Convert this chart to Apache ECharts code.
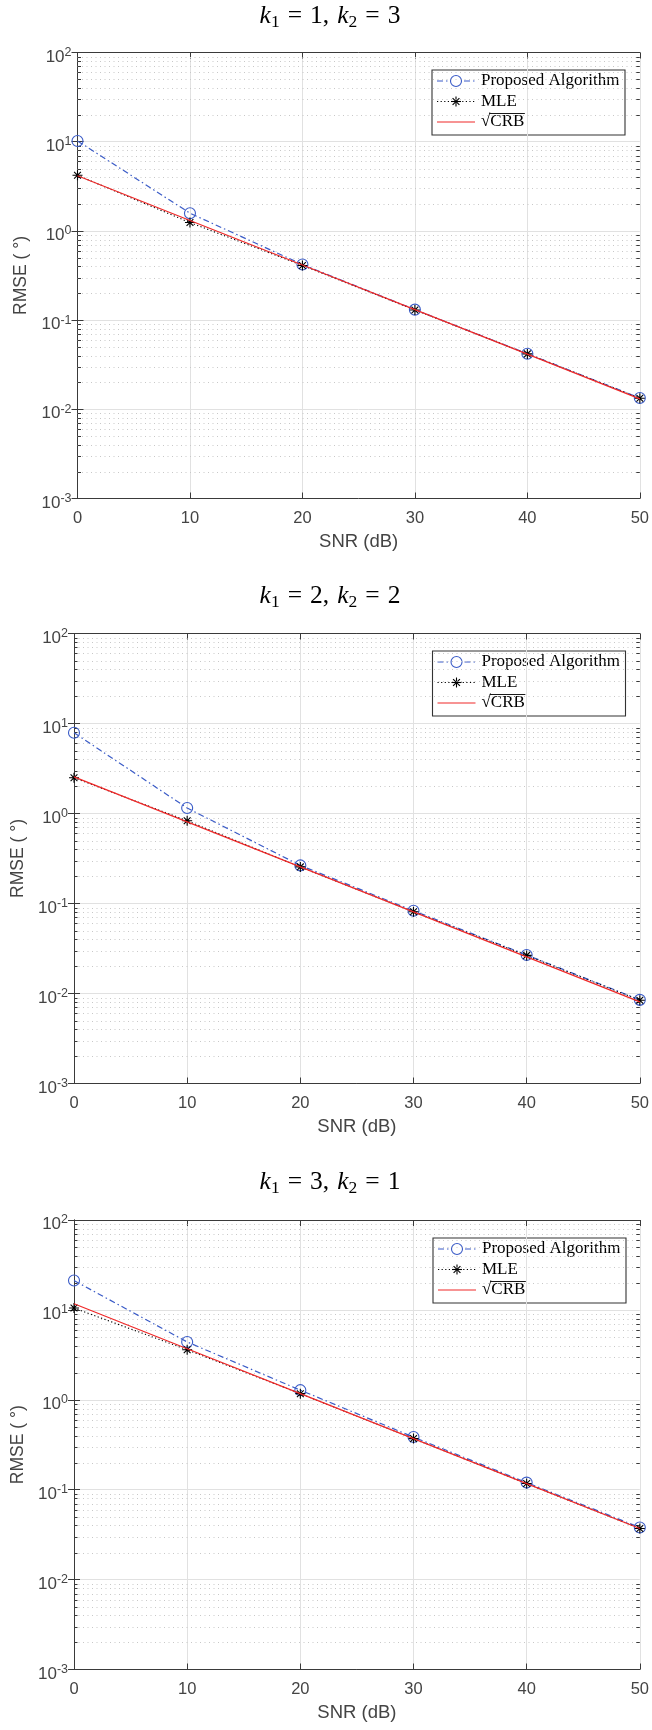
<!DOCTYPE html>
<html>
<head>
<meta charset="utf-8">
<script src="https://cdn.jsdelivr.net/npm/echarts@6/dist/echarts.min.js"></script>
<style>
  html, body { margin: 0; padding: 0; background: #fff; }
  #chart { width: 652px; height: 1730px; }
</style>
</head>
<body>
<div id="chart"></div>
<script>
// SNR sweep (dB)
const snr = [0, 10, 20, 30, 40, 50];

// k1 = 1, k2 = 3
const proposedA = [10.2, 1.58, 0.42, 0.131, 0.042, 0.0134];
const mleA      = [4.2, 1.24, 0.41, 0.130, 0.0418, 0.0133];
const crbA      = [4.15, 1.31, 0.415, 0.131, 0.0415, 0.0131];

// k1 = 2, k2 = 2
const proposedB = [7.9, 1.15, 0.265, 0.083, 0.0268, 0.0085];
const mleB      = [2.5, 0.83, 0.255, 0.081, 0.0265, 0.0084];
const crbB      = [2.55, 0.806, 0.255, 0.0806, 0.0255, 0.00806];

// k1 = 3, k2 = 1
const proposedC = [21.2, 4.4, 1.28, 0.385, 0.12, 0.038];
const mleC      = [10.5, 3.6, 1.17, 0.37, 0.117, 0.037];
const crbC      = [11.7, 3.7, 1.17, 0.37, 0.117, 0.037];

const kPairs = [[1, 3], [2, 2], [3, 1]];
const seriesNames = ['Proposed Algorithm', 'MLE', 'CRB'];
const yDecades = [-3, -2, -1, 0, 1, 2];

// minor log ticks: 2..9 within every decade
const minorTickValues = [];
for (let e = yDecades[0]; e < yDecades[yDecades.length - 1]; e++) {
  for (let m = 2; m <= 9; m++) minorTickValues.push(+(m * Math.pow(10, e)).toPrecision(3));
}

const panels = [
  { k: kPairs[0], proposed: proposedA, mle: mleA, crb: crbA },
  { k: kPairs[1], proposed: proposedB, mle: mleB, crb: crbB },
  { k: kPairs[2], proposed: proposedC, mle: mleC, crb: crbC }
];

// panel frames (px)
const frames = [
  { left: 77.5, top: 52.5, right: 642, bottom: 498.5, titleY: 17,   legendX: 432,   legendY: 70 },
  { left: 74,   top: 633.5, right: 644, bottom: 1083.5, titleY: 597,  legendX: 432.5, legendY: 651 },
  { left: 74,   top: 1220,  right: 644, bottom: 1669.5, titleY: 1183, legendX: 433,   legendY: 1238 }
];

const SANS = '"Liberation Sans", Arial, Helvetica, sans-serif';
const SERIF = '"Liberation Serif", "Times New Roman", serif';
const AXIS = '#3a3a3a';
const LABEL = '#444444';
const BLUE = '#3a5bc7';
const RED = '#f02828';
const BLACK = '#000000';
const MAJOR_GRID = '#e1e1e1';
const MINOR_GRID = '#c8c8c8';
const DASH_DOT = [6, 3, 1.5, 3];
const DOTTED = [1.2, 2.4];
const ASTERISK = 'path://M0,5L10,5M5,0L5,10M1.6,1.6L8.4,8.4M1.6,8.4L8.4,1.6';

const pairs = ys => snr.map((x, i) => [x, ys[i]]);

const grid = [], xAxis = [], yAxis = [], series = [], graphic = [];

function yLabel(v) {
  const e = Math.round(Math.log10(v));
  return '{b|10}{s|' + e + '}';
}

panels.forEach((p, i) => {
  const f = frames[i];
  grid.push({ left: f.left, top: f.top, width: f.right - f.left, height: f.bottom - f.top });

  // bottom / top x axes
  xAxis.push({
    type: 'value', gridIndex: i, min: 0, max: 50, interval: 10, position: 'bottom',
    name: 'SNR (dB)', nameLocation: 'middle', nameGap: 34,
    nameTextStyle: { fontFamily: SANS, fontSize: 18.5, color: LABEL },
    axisLine: { show: true, lineStyle: { color: AXIS, width: 1 } },
    axisTick: { show: true, inside: true, length: 6, lineStyle: { color: AXIS } },
    axisLabel: { show: true, margin: 11, fontFamily: SANS, fontSize: 16.5, color: LABEL },
    splitLine: { show: true, lineStyle: { color: MAJOR_GRID, width: 1 } }
  });
  xAxis.push({
    type: 'value', gridIndex: i, min: 0, max: 50, interval: 10, position: 'top',
    axisLine: { show: true, lineStyle: { color: AXIS, width: 1 } },
    axisTick: { show: true, inside: true, length: 6, lineStyle: { color: AXIS } },
    axisLabel: { show: false }, splitLine: { show: false }
  });

  // left / right log y axes
  yAxis.push({
    type: 'log', logBase: 10, gridIndex: i, min: 0.001, max: 100, position: 'left',
    name: 'RMSE ( °)', nameLocation: 'middle', nameGap: 44, nameRotate: 90,
    nameTextStyle: { fontFamily: SANS, fontSize: 17.5, color: LABEL },
    axisLine: { show: true, lineStyle: { color: AXIS, width: 1 } },
    axisTick: { show: true, inside: true, length: 6, lineStyle: { color: AXIS } },
    axisLabel: {
      show: true, margin: 6, formatter: yLabel,
      rich: {
        b: { fontFamily: SANS, fontSize: 17, color: LABEL, lineHeight: 26, verticalAlign: 'bottom' },
        s: { fontFamily: SANS, fontSize: 12.5, color: LABEL, lineHeight: 26, verticalAlign: 'middle' }
      }
    },
    splitLine: { show: true, lineStyle: { color: MAJOR_GRID, width: 1 } }
  });
  yAxis.push({
    type: 'log', logBase: 10, gridIndex: i, min: 0.001, max: 100, position: 'right',
    axisLine: { show: true, lineStyle: { color: AXIS, width: 1 } },
    axisTick: { show: true, inside: true, length: 6, lineStyle: { color: AXIS } },
    axisLabel: { show: false }, splitLine: { show: false }
  });

  const xi = 2 * i, yi = 2 * i;

  // minor log grid and minor ticks on both sides
  series.push({
    type: 'custom', xAxisIndex: xi, yAxisIndex: yi, z: 1, silent: true, clip: false,
    data: minorTickValues.map(v => [0, v]),
    renderItem: function (params, api) {
      const pt = api.coord([0, api.value(1)]);
      const cs = params.coordSys;
      const y = Math.round(pt[1]) + 0.5;
      return {
        type: 'group',
        children: [
          { type: 'line', shape: { x1: cs.x, y1: y, x2: cs.x + cs.width, y2: y },
            style: { stroke: MINOR_GRID, lineWidth: 1, lineDash: [1, 3.5] } },
          { type: 'line', shape: { x1: cs.x, y1: y, x2: cs.x + 3.5, y2: y },
            style: { stroke: AXIS, lineWidth: 1 } },
          { type: 'line', shape: { x1: cs.x + cs.width - 3.5, y1: y, x2: cs.x + cs.width, y2: y },
            style: { stroke: AXIS, lineWidth: 1 } }
        ]
      };
    }
  });

  series.push({
    name: seriesNames[0], type: 'line', xAxisIndex: xi, yAxisIndex: yi, data: pairs(p.proposed),
    clip: false, symbol: 'circle', symbolSize: 11, showSymbol: true, z: 3,
    lineStyle: { color: BLUE, width: 1.2, type: DASH_DOT },
    itemStyle: { color: 'transparent', borderColor: BLUE, borderWidth: 1.1 }
  });
  series.push({
    name: seriesNames[1], type: 'line', xAxisIndex: xi, yAxisIndex: yi, data: pairs(p.mle),
    clip: false, symbol: ASTERISK, symbolSize: 10, showSymbol: true, z: 4,
    lineStyle: { color: BLACK, width: 1.1, type: DOTTED },
    itemStyle: { color: BLACK, borderColor: BLACK, borderWidth: 1.1 }
  });
  series.push({
    name: seriesNames[2], type: 'line', xAxisIndex: xi, yAxisIndex: yi, data: pairs(p.crb),
    clip: false, symbol: 'none', showSymbol: false, z: 5,
    lineStyle: { color: RED, width: 1.2 }
  });

  // panel title: k_1 = a, k_2 = b  (math-style spacing around '=')
  const tfs = 25.5;
  graphic.push({
    type: 'text', x: 330, y: f.titleY, z: 100,
    style: {
      text: '{i|k}{s|1}{eq|=}{n|' + p.k[0] + '}{c|,}{i|k}{s|2}{eq|=}{n|' + p.k[1] + '}',
      align: 'center', verticalAlign: 'middle',
      rich: {
        i: { fontFamily: SERIF, fontStyle: 'italic', fontSize: tfs, lineHeight: 28, verticalAlign: 'top', fill: '#000' },
        n: { fontFamily: SERIF, fontSize: tfs, lineHeight: 28, verticalAlign: 'top', fill: '#000' },
        eq: { fontFamily: SERIF, fontSize: tfs, lineHeight: 28, verticalAlign: 'top', fill: '#000', padding: [0, 8, 0, 8] },
        c: { fontFamily: SERIF, fontSize: tfs, lineHeight: 28, verticalAlign: 'top', fill: '#000', padding: [0, 8, 0, 0] },
        s: { fontFamily: SERIF, fontSize: 17.5, lineHeight: 18, verticalAlign: 'bottom', fill: '#000' }
      }
    }
  });

  // legend box
  graphic.push(legendGroup(f.legendX, f.legendY));
});

function textWidth(str, size, family) {
  const ctx = document.createElement('canvas').getContext('2d');
  ctx.font = size + 'px ' + family;
  return ctx.measureText(str).width;
}

function asteriskLines(cx, cy, r) {
  const d = r * 0.68;
  return [
    [cx - r, cy, cx + r, cy], [cx, cy - r, cx, cy + r],
    [cx - d, cy - d, cx + d, cy + d], [cx - d, cy + d, cx + d, cy - d]
  ].map(s => ({ type: 'line', shape: { x1: s[0], y1: s[1], x2: s[2], y2: s[3] },
                style: { stroke: BLACK, lineWidth: 1.1 } }));
}

function legendGroup(x, y) {
  const rows = [11, 31.5, 52];
  const x0 = 5, x1 = 43, mid = 24, tx = 49, fs = 17;
  const textStyle = { fontFamily: SERIF, fontSize: fs, fill: '#000', verticalAlign: 'middle' };
  const children = [
    { type: 'rect', shape: { x: 0, y: 0, width: 193, height: 65 },
      style: { fill: '#fff', stroke: '#333', lineWidth: 1.1 } },
    // Proposed Algorithm
    { type: 'line', shape: { x1: x0, y1: rows[0], x2: x1, y2: rows[0] },
      style: { stroke: BLUE, lineWidth: 1.2, lineDash: DASH_DOT } },
    { type: 'circle', shape: { cx: mid, cy: rows[0], r: 5.5 },
      style: { fill: '#fff', stroke: BLUE, lineWidth: 1.1 } },
    { type: 'text', x: tx, y: rows[0], style: Object.assign({ text: seriesNames[0] }, textStyle) },
    // MLE
    { type: 'line', shape: { x1: x0, y1: rows[1], x2: x1, y2: rows[1] },
      style: { stroke: BLACK, lineWidth: 1.1, lineDash: DOTTED } }
  ].concat(asteriskLines(mid, rows[1], 5)).concat([
    { type: 'text', x: tx, y: rows[1], style: Object.assign({ text: seriesNames[1] }, textStyle) },
    // sqrt CRB
    { type: 'line', shape: { x1: x0, y1: rows[2], x2: x1, y2: rows[2] },
      style: { stroke: RED, lineWidth: 1.2 } }
  ]);
  const wRoot = textWidth('√', fs, SERIF);
  const wCrb = textWidth(seriesNames[2], fs, SERIF);
  children.push({ type: 'text', x: tx, y: rows[2], style: Object.assign({ text: '√' }, textStyle) });
  children.push({ type: 'text', x: tx + wRoot, y: rows[2], style: Object.assign({ text: seriesNames[2] }, textStyle) });
  children.push({ type: 'line', shape: { x1: tx + wRoot - 1, y1: rows[2] - 8.5, x2: tx + wRoot + wCrb + 0.5, y2: rows[2] - 8.5 },
                  style: { stroke: '#000', lineWidth: 0.9 } });
  return { type: 'group', x: x, y: y, z: 100, children: children };
}

const chart = echarts.init(document.getElementById('chart'), null, { renderer: 'canvas' });
chart.setOption({
  animation: false,
  backgroundColor: '#ffffff',
  grid: grid,
  xAxis: xAxis,
  yAxis: yAxis,
  series: series,
  graphic: graphic
});
</script>
</body>
</html>
